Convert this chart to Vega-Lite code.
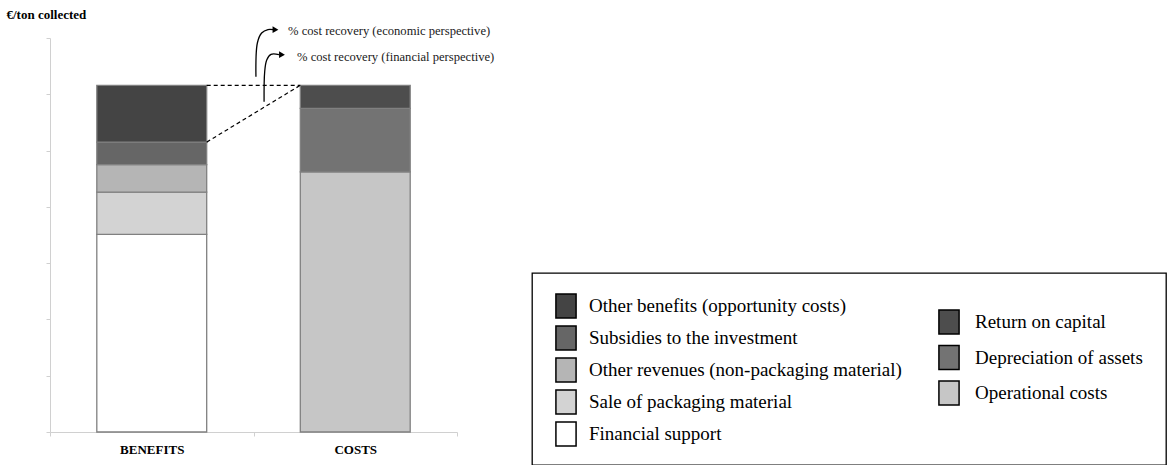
{
  "$schema": "https://vega.github.io/schema/vega-lite/v6.json",
  "padding": {"left": 6, "top": 8, "right": 1, "bottom": 0},
  "spacing": 36,
  "config": {"view": {"stroke": null}, "font": "Liberation Serif"},
  "datasets": {
    "bars": [
      {"side": "BENEFITS", "component": "Financial support", "rank": 1, "value": 3.51},
      {"side": "BENEFITS", "component": "Sale of packaging material", "rank": 2, "value": 0.75},
      {"side": "BENEFITS", "component": "Other revenues (non-packaging material)", "rank": 3, "value": 0.49},
      {"side": "BENEFITS", "component": "Subsidies to the investment", "rank": 4, "value": 0.40},
      {"side": "BENEFITS", "component": "Other benefits (opportunity costs)", "rank": 5, "value": 1.01},
      {"side": "COSTS", "component": "Operational costs", "rank": 1, "value": 4.62},
      {"side": "COSTS", "component": "Depreciation of assets", "rank": 2, "value": 1.13},
      {"side": "COSTS", "component": "Return on capital", "rank": 3, "value": 0.41}
    ],
    "links": [
      {"from": "BENEFITS", "to": "COSTS", "y_from": 6.16, "y_to": 6.16},
      {"from": "BENEFITS", "to": "COSTS", "y_from": 5.15, "y_to": 6.16}
    ],
    "arrows": [
      {"arrow": "economic", "seq": 1, "x": 1.012, "y": 6.312},
      {"arrow": "economic", "seq": 2, "x": 1.019, "y": 6.911},
      {"arrow": "economic", "seq": 3, "x": 1.040, "y": 7.088},
      {"arrow": "economic", "seq": 4, "x": 1.071, "y": 7.150},
      {"arrow": "economic", "seq": 5, "x": 1.100, "y": 7.147},
      {"arrow": "financial", "seq": 1, "x": 1.052, "y": 5.868},
      {"arrow": "financial", "seq": 2, "x": 1.055, "y": 6.401},
      {"arrow": "financial", "seq": 3, "x": 1.065, "y": 6.609},
      {"arrow": "financial", "seq": 4, "x": 1.086, "y": 6.710},
      {"arrow": "financial", "seq": 5, "x": 1.125, "y": 6.706}
    ],
    "heads": [
      {"arrow": "economic", "x": 1.108, "y": 7.147},
      {"arrow": "financial", "x": 1.140, "y": 6.703}
    ],
    "notes": [
      {"label": "% cost recovery (economic perspective)", "x": 1.170, "y": 7.12},
      {"label": "% cost recovery (financial perspective)", "x": 1.214, "y": 6.662}
    ],
    "legend": [
      {"group": "benefits", "label": "Other benefits (opportunity costs)"},
      {"group": "benefits", "label": "Subsidies to the investment"},
      {"group": "benefits", "label": "Other revenues (non-packaging material)"},
      {"group": "benefits", "label": "Sale of packaging material"},
      {"group": "benefits", "label": "Financial support"},
      {"group": "costs", "label": "Return on capital"},
      {"group": "costs", "label": "Depreciation of assets"},
      {"group": "costs", "label": "Operational costs"}
    ]
  },
  "hconcat": [
    {
      "width": 407,
      "height": 394,
      "layer": [
        {
          "layer": [
            {
              "data": {"name": "bars"},
              "mark": {"type": "bar", "width": {"band": 0.54}, "stroke": "#808080", "strokeWidth": 1.3},
              "encoding": {
                "x": {
                  "field": "side", "type": "nominal", "sort": null,
                  "scale": {"domain": ["BENEFITS", "COSTS"], "paddingInner": 0, "paddingOuter": 0},
                  "axis": {"title": null, "labelAngle": 0, "labelFont": "Liberation Serif", "labelFontWeight": "bold", "labelFontSize": 13, "labelColor": "#000", "domainColor": "#d0d0d0", "tickColor": "#d0d0d0", "tickBand": "extent", "tickSize": 4, "labelPadding": 7}
                },
                "y": {
                  "field": "value", "type": "quantitative", "stack": "zero",
                  "scale": {"domain": [0, 7], "nice": false},
                  "axis": {"values": [0, 1, 2, 3, 4, 5, 6, 7], "labels": false, "grid": false, "tickSize": 4, "tickColor": "#d0d0d0", "domainColor": "#d0d0d0", "title": "€/ton collected", "titleAngle": 0, "titleAlign": "left", "titleBaseline": "alphabetic", "titleX": -44, "titleY": -20, "titleFontSize": 13, "titleFontWeight": "bold", "titleColor": "#000", "titleFont": "Liberation Serif"}
                },
                "color": {
                  "field": "component", "type": "nominal",
                  "scale": {
                    "domain": ["Other benefits (opportunity costs)", "Subsidies to the investment", "Other revenues (non-packaging material)", "Sale of packaging material", "Financial support", "Return on capital", "Depreciation of assets", "Operational costs"],
                    "range": ["#444444", "#666666", "#b5b5b5", "#d3d3d3", "#ffffff", "#4d4d4d", "#737373", "#c6c6c6"]
                  },
                  "legend": null
                },
                "order": {"field": "rank", "type": "quantitative"}
              }
            },
            {
              "data": {"name": "links"},
              "mark": {"type": "rule", "strokeDash": [4, 3], "strokeWidth": 1.2, "color": "#000"},
              "encoding": {
                "x": {"field": "from", "type": "nominal", "bandPosition": 0.77},
                "x2": {"field": "to", "bandPosition": 0.23},
                "y": {"field": "y_from", "type": "quantitative", "scale": {"domain": [0, 7], "nice": false}},
                "y2": {"field": "y_to"}
              }
            }
          ]
        },
        {
          "layer": [
            {
              "data": {"name": "arrows"},
              "mark": {"type": "line", "interpolate": "catmull-rom", "strokeWidth": 1.3, "color": "#000"},
              "encoding": {
                "x": {"field": "x", "type": "quantitative", "scale": {"domain": [0, 2], "nice": false, "zero": false}, "axis": null},
                "y": {"field": "y", "type": "quantitative", "scale": {"domain": [0, 7], "nice": false}},
                "detail": {"field": "arrow"},
                "order": {"field": "seq", "type": "quantitative"}
              }
            },
            {
              "data": {"name": "heads"},
              "mark": {"type": "point", "shape": "triangle-right", "filled": true, "size": 45, "color": "#000", "opacity": 1},
              "encoding": {
                "x": {"field": "x", "type": "quantitative", "scale": {"domain": [0, 2], "nice": false, "zero": false}, "axis": null},
                "y": {"field": "y", "type": "quantitative", "scale": {"domain": [0, 7], "nice": false}}
              }
            },
            {
              "data": {"name": "notes"},
              "mark": {"type": "text", "align": "left", "baseline": "middle", "fontSize": 12.6, "font": "Liberation Serif", "color": "#1a1a1a"},
              "encoding": {
                "x": {"field": "x", "type": "quantitative", "scale": {"domain": [0, 2], "nice": false, "zero": false}, "axis": null},
                "y": {"field": "y", "type": "quantitative", "scale": {"domain": [0, 7], "nice": false}},
                "text": {"field": "label"}
              }
            }
          ]
        }
      ],
      "resolve": {"scale": {"x": "independent"}}
    },
    {
      "spacing": 10,
      "vconcat": [
        {
          "width": 634,
          "height": 224,
          "data": {"values": []},
          "mark": "point"
        },
        {
          "width": 634,
          "height": 192,
          "view": {"stroke": "#000", "strokeWidth": 1.3},
          "data": {"name": "legend"},
          "layer": [
            {
              "transform": [{"filter": "datum.group == 'benefits'"}],
              "layer": [
                {
                  "mark": {"type": "point", "shape": "M-0.84,-1H0.84V1H-0.84Z", "size": 576, "filled": true, "stroke": "#000", "strokeWidth": 1.5, "opacity": 1},
                  "encoding": {
                    "x": {"field": "group", "type": "nominal", "scale": {"type": "point", "domain": ["benefits", "costs"], "range": [34, 417], "padding": 0}, "axis": null},
                    "y": {"field": "label", "type": "nominal", "sort": null, "scale": {"type": "point", "range": [33, 161], "padding": 0}, "axis": null},
                    "color": {
                      "field": "label", "type": "nominal",
                      "scale": {
                        "domain": ["Other benefits (opportunity costs)", "Subsidies to the investment", "Other revenues (non-packaging material)", "Sale of packaging material", "Financial support", "Return on capital", "Depreciation of assets", "Operational costs"],
                        "range": ["#444444", "#666666", "#b5b5b5", "#d3d3d3", "#ffffff", "#4d4d4d", "#737373", "#c6c6c6"]
                      },
                      "legend": null
                    }
                  }
                },
                {
                  "mark": {"type": "text", "align": "left", "baseline": "middle", "dx": 23, "fontSize": 19, "font": "Liberation Serif", "color": "#000"},
                  "encoding": {
                    "x": {"field": "group", "type": "nominal", "scale": {"type": "point", "domain": ["benefits", "costs"], "range": [34, 417], "padding": 0}, "axis": null},
                    "y": {"field": "label", "type": "nominal", "sort": null, "scale": {"type": "point", "range": [33, 161], "padding": 0}, "axis": null},
                    "text": {"field": "label"}
                  }
                }
              ]
            },
            {
              "transform": [{"filter": "datum.group == 'costs'"}],
              "layer": [
                {
                  "mark": {"type": "point", "shape": "M-0.84,-1H0.84V1H-0.84Z", "size": 576, "filled": true, "stroke": "#000", "strokeWidth": 1.5, "opacity": 1},
                  "encoding": {
                    "x": {"field": "group", "type": "nominal", "scale": {"type": "point", "domain": ["benefits", "costs"], "range": [34, 417], "padding": 0}, "axis": null},
                    "y": {"field": "label", "type": "nominal", "sort": null, "scale": {"type": "point", "range": [49, 120], "padding": 0}, "axis": null},
                    "color": {
                      "field": "label", "type": "nominal",
                      "scale": {
                        "domain": ["Other benefits (opportunity costs)", "Subsidies to the investment", "Other revenues (non-packaging material)", "Sale of packaging material", "Financial support", "Return on capital", "Depreciation of assets", "Operational costs"],
                        "range": ["#444444", "#666666", "#b5b5b5", "#d3d3d3", "#ffffff", "#4d4d4d", "#737373", "#c6c6c6"]
                      },
                      "legend": null
                    }
                  }
                },
                {
                  "mark": {"type": "text", "align": "left", "baseline": "middle", "dx": 26, "fontSize": 19, "font": "Liberation Serif", "color": "#000"},
                  "encoding": {
                    "x": {"field": "group", "type": "nominal", "scale": {"type": "point", "domain": ["benefits", "costs"], "range": [34, 417], "padding": 0}, "axis": null},
                    "y": {"field": "label", "type": "nominal", "sort": null, "scale": {"type": "point", "range": [49, 120], "padding": 0}, "axis": null},
                    "text": {"field": "label"}
                  }
                }
              ]
            }
          ],
          "resolve": {"scale": {"y": "independent"}}
        }
      ]
    }
  ]
}
